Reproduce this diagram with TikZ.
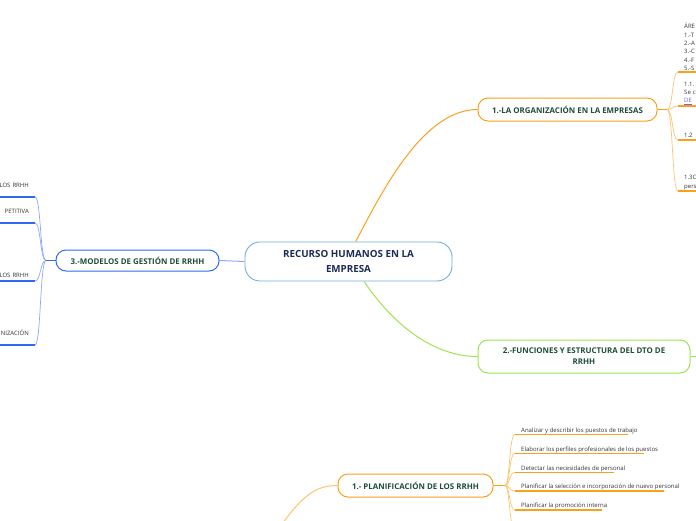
\documentclass[tikz,border=0pt]{standalone}
\usepackage{fontspec}
\setmainfont{Open Sans}
\usepackage{tikz}
\usepackage{xcolor}
\usetikzlibrary{positioning, calc}
\definecolor{rootEdge} {HTML}{6FAEDD}
\definecolor{rootInk}  {HTML}{1C2B5A}
\definecolor{rootLink} {HTML}{97A6EE}
\definecolor{topicInk} {HTML}{1E4D3B}
\definecolor{orgEdge}  {HTML}{F9A11B}
\definecolor{orgTwig}  {HTML}{FDC470}
\definecolor{funcEdge} {HTML}{9FE352}
\definecolor{modelEdge}{HTML}{2E6BF2}
\definecolor{modelTwig}{HTML}{8DA9F5}
\definecolor{leafInk}  {HTML}{333333}
\definecolor{linkInk}  {HTML}{7B5CF0}

\tikzset{
  rootbox/.style={draw=rootEdge, line width=0.9pt, fill=white, rounded corners=15pt,
    minimum width=207pt, minimum height=39pt, align=center, text=rootInk,
    font=\bfseries\fontsize{9.8}{15}\selectfont},
  topicbox/.style={draw=#1, line width=1pt, fill=white, rounded corners=10pt,
    minimum height=23pt, align=center, text=topicInk,
    font=\bfseries\fontsize{7.9}{11}\selectfont},
  leaf/.style={inner xsep=6pt, inner ysep=1pt, text=leafInk,
    font=\fontsize{6}{8.4}\selectfont},
  oneline/.style={text depth=1pt},
  twig/.style={draw=#1, line width=0.7pt},
  leafline/.style={draw=#1, line width=1.4pt},
}

\begin{document}
\begin{tikzpicture}[x=1pt, y=-1pt]
  \useasboundingbox (0,0) rectangle (696,520);
  \clip (0,0) rectangle (696,520);

  % centre and main topics
  \node[rootbox] (root) at (348.5, 261.5) {RECURSO HUMANOS EN LA\\EMPRESA};
  \node[topicbox=orgEdge, minimum width=179pt]
    (org) at (567.5, 109.5) {1.-LA ORGANIZACIÓN EN LA EMPRESAS};
  \node[topicbox=funcEdge, minimum width=212pt, minimum height=33pt]
    (func) at (584, 356.5) {2.-FUNCIONES Y ESTRUCTURA DEL DTO DE\\RRHH};
  \node[topicbox=modelEdge, minimum width=163pt, minimum height=21pt]
    (model) at (137.5, 260.5) {3.-MODELOS DE GESTIÓN DE RRHH};
  \node[topicbox=orgEdge, minimum width=155pt]
    (plan) at (415.5, 485.5) {1.- PLANIFICACIÓN DE LOS RRHH};

  \draw[twig=orgEdge, line width=1pt] (root.70) .. controls (385,185) and (425,109.5) .. (org.west);
  \draw[twig=funcEdge, line width=1pt] (root.-52) .. controls (390,320) and (430,356.5) .. (func.west);
  \draw[twig=rootLink, line width=1pt] (root.west) -- (model.east);
  \coordinate (planIn) at (268, 545);
  \draw[twig=orgTwig, line width=1pt] (planIn) .. controls (300,495) and (315,485.5) .. (plan.west);
  \coordinate (funcOut) at (710, 356.5);
  \draw[twig=funcEdge, line width=1pt] (func.east) -- (funcOut);

  % 1.- organizacion
  \coordinate (orgHub) at (667, 109.5);
  \draw[twig=orgEdge, line width=1pt] (org.east) -- (orgHub);
  \node[leaf, anchor=south west, text width=30pt, align=left]
    (areas) at (678, 72) {ÁRE\\1.-T\\2.-A\\3.-C\\4.-F\\5.-S};
  \node[leaf, anchor=south west, text width=30pt, align=left]
    (orgA) at (678, 106) {1.1.\\Se c\\\textcolor{linkInk}{\underline{DE}}};
  \node[leaf, oneline, anchor=south west, text width=30pt, align=left]
    (orgB) at (678, 140) {1.2};
  \node[leaf, anchor=south west, text width=30pt, align=left]
    (orgC) at (678, 191) {1.3C\\pers};
  \foreach \name/\y in {areas/72, orgA/106, orgB/140, orgC/191}{
    \draw[twig=orgTwig] (orgHub) .. controls (673,109.5) and (672,\y) .. (\name.south west);
    \draw[leafline=orgEdge] (\name.south west) -- (\name.south east);
  }

  % 3.- modelos
  \coordinate (modelHub) at (46, 260.5);
  \draw[twig=modelEdge, line width=1pt] (model.west) -- (modelHub);
  \foreach \name/\y/\gap/\txt in {modA/197/8pt/LOS RRHH, modB/223/8pt/PETITIVA,
                                  modC/281/2pt/LOS RRHH, modD/345/8pt/NIZACIÓN}{
    \node[leaf, oneline, anchor=south east, text width=36pt, align=right, inner ysep=\gap]
      (\name) at (35, \y) {\txt};
    \draw[twig=modelTwig] (modelHub) .. controls (40,260.5) and (41,\y) .. (\name.south east);
    \draw[leafline=modelEdge] (\name.south east) -- (\name.south west);
  }

  % 1.- planificacion
  \coordinate (planHub) at (505, 485.5);
  \draw[twig=orgEdge, line width=1pt] (plan.east) -- (planHub);
  \foreach \name/\y/\len/\txt in {
      anal/434.3/113/Analizar y describir los puestos de trabajo,
      elab/453.3/129/Elaborar los perfiles profesionales de los puestos,
      detec/472.3/99/Detectar las necesidades de personal,
      selec/491/149/Planificar la selección e incorporación de nuevo personal,
      promo/510/87/Planificar la promoción interna}{
    \node[leaf, oneline, anchor=south west] (\name) at (515, \y) {\txt};
    \draw[twig=orgTwig] (planHub) .. controls (510,485.5) and (509,\y) .. (\name.south west);
    \draw[leafline=orgEdge] (\name.south west) -- ++(\len,0);
  }
  \coordinate (planMore) at (516, 532);
  \draw[twig=orgTwig] (planHub) .. controls (510,485.5) and (509,532) .. (planMore);
\end{tikzpicture}
\end{document}
